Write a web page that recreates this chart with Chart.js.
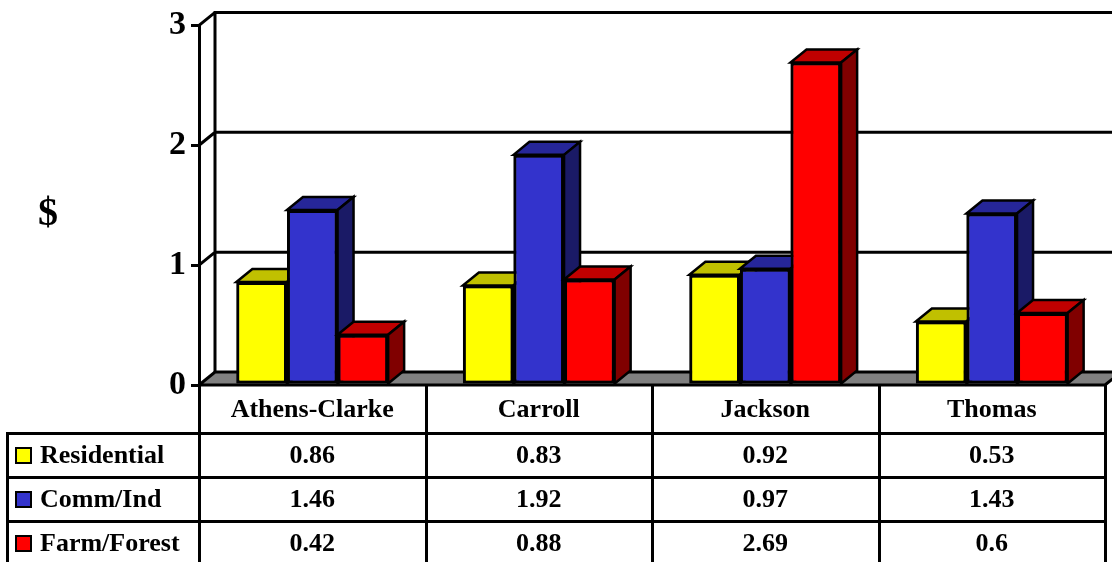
<!DOCTYPE html>
<html>
<head>
<meta charset="utf-8">
<script src="https://cdn.jsdelivr.net/npm/chart.js@4.4.0/dist/chart.umd.min.js"></script>
<style>
  body { margin: 0; background: #fff; }
  #wrap { position: relative; width: 1112px; height: 562px; overflow: hidden; font-family: 'Liberation Serif', 'Times New Roman', serif; font-weight: bold; color: #000; }
  #c { position: absolute; left: 0; top: 0; }
  #dollar { position: absolute; left: 38px; top: 189px; font-size: 40px; line-height: 46px; }
  .ln { position: absolute; background: #000; }
  .cell { position: absolute; display: flex; align-items: center; justify-content: center; font-size: 26px; }
  .leg { position: absolute; display: flex; align-items: center; font-size: 26px; }
  .sw { width: 13px; height: 13px; border: 2.5px solid #000; margin-right: 8px; }
</style>
</head>
<body>
<div id="wrap">
  <canvas id="c" width="1112" height="562"></canvas>
  <div id="dollar">$</div>
  <div id="table"></div>
</div>
<script>
const categories = ['Athens-Clarke', 'Carroll', 'Jackson', 'Thomas'];
const residential = [0.86, 0.83, 0.92, 0.53];
const commInd = [1.46, 1.92, 0.97, 1.43];
const farmForest = [0.42, 0.88, 2.69, 0.6];
const seriesNames = ['Residential', 'Comm/Ind', 'Farm/Forest'];
const yTicks = [0, 1, 2, 3];

// front, top, side shades for each series
const shades = [
    { front: '#FFFF00', top: '#C0C000', side: '#808000' },
    { front: '#3333CC', top: '#262699', side: '#1A1A66' },
    { front: '#FF0000', top: '#C00000', side: '#800000' }
];
const DX = 16, DY = 13;

// back wall, gridlines and gray floor behind the bars
const wallPlugin = {
    id: 'wall',
    beforeDatasetsDraw(chart) {
        const { ctx, chartArea: a, scales: { y } } = chart;
        ctx.save();
        ctx.strokeStyle = '#000';
        ctx.lineWidth = 3;
        ctx.lineCap = 'square';
        ctx.beginPath();
        ctx.moveTo(a.left + DX, y.getPixelForValue(3) - DY);
        ctx.lineTo(a.left + DX, y.getPixelForValue(0) - DY);
        yTicks.forEach(v => {
            if (v === 0) return;
            const py = y.getPixelForValue(v);
            ctx.moveTo(a.left, py);
            ctx.lineTo(a.left + DX, py - DY);
            ctx.lineTo(chart.width + 5, py - DY);
        });
        ctx.stroke();
        // floor
        const b = y.getPixelForValue(0);
        ctx.beginPath();
        ctx.moveTo(a.left, b);
        ctx.lineTo(a.right, b);
        ctx.lineTo(a.right + DX, b - DY);
        ctx.lineTo(a.left + DX, b - DY);
        ctx.closePath();
        ctx.fillStyle = '#808080';
        ctx.fill();
        ctx.stroke();
        ctx.restore();
    }
};

// redraw every bar left to right with its top and side faces,
// so each series overlaps the one before it like the 3D original
const depthPlugin = {
    id: 'depth',
    afterDatasetsDraw(chart) {
        const { ctx } = chart;
        ctx.save();
        chart.data.datasets.forEach((ds, i) => {
            const s = shades[i];
            chart.getDatasetMeta(i).data.forEach(bar => {
                bar.draw(ctx, chart.chartArea);
                const p = bar.getProps(['x', 'y', 'base', 'width'], true);
                const l = p.x - p.width / 2, r = p.x + p.width / 2;
                ctx.strokeStyle = '#000';
                ctx.lineWidth = 2.5;
                ctx.lineJoin = 'miter';
                ctx.beginPath();
                ctx.moveTo(l, p.y);
                ctx.lineTo(l + DX, p.y - DY);
                ctx.lineTo(r + DX, p.y - DY);
                ctx.lineTo(r, p.y);
                ctx.closePath();
                ctx.fillStyle = s.top;
                ctx.fill();
                ctx.stroke();
                ctx.beginPath();
                ctx.moveTo(r, p.y);
                ctx.lineTo(r + DX, p.y - DY);
                ctx.lineTo(r + DX, p.base - DY);
                ctx.lineTo(r, p.base);
                ctx.closePath();
                ctx.fillStyle = s.side;
                ctx.fill();
                ctx.stroke();
            });
        });
        ctx.restore();
    }
};

const chart = new Chart(document.getElementById('c').getContext('2d'), {
    type: 'bar',
    data: {
        labels: categories,
        datasets: [residential, commInd, farmForest].map((d, i) => ({
            label: seriesNames[i],
            data: d,
            backgroundColor: shades[i].front,
            borderColor: '#000',
            borderWidth: 3,
            borderSkipped: false,
            categoryPercentage: 0.67,
            barPercentage: 1
        }))
    },
    options: {
        responsive: false,
        animation: false,
        devicePixelRatio: 1,
        layout: { padding: { top: 24, bottom: 177, right: 7, left: 0 } },
        plugins: { legend: { display: false }, tooltip: { enabled: false } },
        scales: {
            x: { display: false },
            y: {
                min: 0,
                max: 3,
                afterFit(scale) { scale.width = 199; },
                ticks: {
                    stepSize: 1,
                    color: '#000',
                    padding: 5,
                    font: { family: "'Liberation Serif', serif", size: 34, weight: 'bold' }
                },
                grid: {
                    drawOnChartArea: false,
                    drawTicks: true,
                    tickLength: 8,
                    color: '#000',
                    lineWidth: 3
                },
                border: { display: true, color: '#000', width: 3 }
            }
        }
    },
    plugins: [wallPlugin, depthPlugin]
});

// data table under the plot, aligned to the category columns
(function buildTable() {
    const t = document.getElementById('table');
    const a = chart.chartArea;
    const n = categories.length;
    const w = (a.right - a.left) / n;
    const headTop = a.bottom, headBot = 433, rowH = 44, tableLeft = 7;
    const rows = [residential, commInd, farmForest];
    const bottom = headBot + rowH * rows.length;
    const add = (cls, css, text) => {
        const d = document.createElement('div');
        d.className = cls;
        Object.assign(d.style, css);
        if (text !== undefined) d.textContent = text;
        t.appendChild(d);
        return d;
    };
    for (let r = 0; r <= rows.length; r++) {
        const yy = headBot + r * rowH;
        add('ln', { left: (tableLeft - 1) + 'px', top: (yy - 1) + 'px', width: (a.right - tableLeft + 3) + 'px', height: '3px' });
    }
    add('ln', { left: (tableLeft - 1) + 'px', top: (headBot - 1) + 'px', width: '3px', height: (bottom - headBot) + 'px' });
    for (let c = 0; c <= n; c++) {
        const xx = a.left + c * w;
        add('ln', { left: (xx - 1) + 'px', top: headTop + 'px', width: '3px', height: (bottom - headTop) + 'px' });
    }
    categories.forEach((cat, c) => {
        add('cell', { left: (a.left + c * w) + 'px', top: headTop + 'px', width: w + 'px', height: (headBot - headTop) + 'px' }, cat);
    });
    rows.forEach((vals, r) => {
        const top = headBot + r * rowH;
        const leg = add('leg', { left: '15px', top: top + 'px', height: rowH + 'px' });
        const sw = document.createElement('div');
        sw.className = 'sw';
        sw.style.background = shades[r].front;
        leg.appendChild(sw);
        leg.appendChild(document.createTextNode(seriesNames[r]));
        vals.forEach((v, c) => {
            add('cell', { left: (a.left + c * w) + 'px', top: top + 'px', width: w + 'px', height: rowH + 'px' }, String(v));
        });
    });
})();
</script>
</body>
</html>
